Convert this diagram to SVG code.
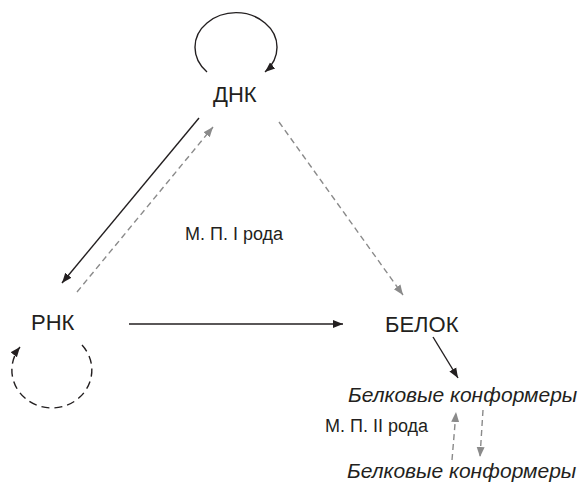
<svg xmlns="http://www.w3.org/2000/svg" width="581" height="485" viewBox="0 0 581 485">
<style>
text { font-family: "Liberation Sans", Arial, sans-serif; fill: #231f20; }
.node { font-size: 22px; }
.lbl { font-size: 18px; }
.it { font-size: 21px; font-style: italic; }
.solid { stroke: #231f20; stroke-width: 1.4; fill: none; }
.gdash { stroke: #8a8a8a; stroke-width: 1.4; fill: none; stroke-dasharray: 6 4; }
.loopd { stroke: #231f20; stroke-width: 1.4; fill: none; stroke-dasharray: 8 5; }
</style>
<defs>
<marker id="ab" viewBox="0 0 10 10" refX="10" refY="5" markerWidth="10" markerHeight="10" markerUnits="userSpaceOnUse" orient="auto">
<path d="M0,1 L10,5 L0,9 Z" fill="#231f20"/>
</marker>
<marker id="ag" viewBox="0 0 10 10" refX="10" refY="5" markerWidth="10" markerHeight="10" markerUnits="userSpaceOnUse" orient="auto">
<path d="M0,1 L10,5 L0,9 Z" fill="#8a8a8a"/>
</marker>
</defs>
<g id="connectors">
<path class="solid" d="M207,72 A41,35 0 1 1 265,72" marker-end="url(#ab)"/>
<path class="loopd" d="M82,345 A40,38 0 1 1 20,347" marker-end="url(#ab)"/>
<line class="solid" x1="199" y1="118" x2="62" y2="283" marker-end="url(#ab)"/>
<line class="gdash" x1="77" y1="292" x2="213" y2="127" marker-end="url(#ag)"/>
<line class="gdash" x1="279" y1="122" x2="403" y2="295" marker-end="url(#ag)"/>
<line class="solid" x1="129" y1="324" x2="343" y2="324" marker-end="url(#ab)"/>
<line class="solid" x1="433" y1="337" x2="458" y2="378" marker-end="url(#ab)"/>
<line class="gdash" x1="452" y1="460" x2="456" y2="412" marker-end="url(#ag)"/>
<line class="gdash" x1="483" y1="410" x2="480" y2="457" marker-end="url(#ag)"/>
</g>
<g id="dna"><text class="node" x="213" y="102">ДНК</text></g>
<g id="rna"><text class="node" x="31" y="330">РНК</text></g>
<g id="protein"><text class="node" x="385" y="332">БЕЛОК</text></g>
<g id="conf1"><text class="it" x="348" y="402">Белковые конформеры</text></g>
<g id="conf2"><text class="it" x="347" y="478">Белковые конформеры</text></g>
<g id="label1"><text class="lbl" x="185" y="240">М. П. I рода</text></g>
<g id="label2"><text class="lbl" x="325" y="432">М. П. II рода</text></g>
</svg>
